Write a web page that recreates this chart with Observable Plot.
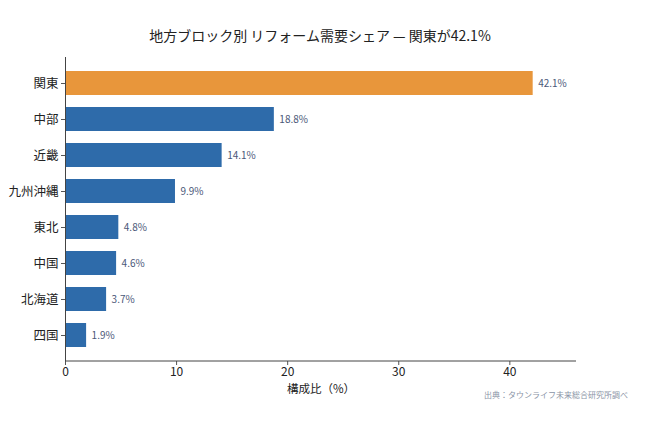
<!DOCTYPE html>
<html><head><meta charset="utf-8">
<script src="https://cdn.jsdelivr.net/npm/d3@7"></script>
<script src="https://cdn.jsdelivr.net/npm/@observablehq/plot@0.6"></script>
<style>
body{margin:0;background:#fff;font-family:"Noto Sans CJK JP","Noto Sans",sans-serif;}
#wrap{position:relative;width:652px;height:423px;}
#title{position:absolute;top:25px;left:0;width:640px;text-align:center;font-size:14px;color:#222;}
#cap{position:absolute;top:389px;right:24px;font-size:8px;color:#8a94a6;}
</style></head>
<body><div id="wrap"><div id="title">地方ブロック別 リフォーム需要シェア — 関東が42.1%</div><div id="chart"></div><div id="cap">出典：タウンライフ未来総合研究所調べ</div></div>
<script>
const regions = ["関東","中部","近畿","九州沖縄","東北","中国","北海道","四国"];
const shares = [42.1,18.8,14.1,9.9,4.8,4.6,3.7,1.9];
const highlight = "関東";
const data = regions.map((r,i)=>({region:r, share:shares[i]}));
const font = '"Noto Sans CJK JP","Noto Sans",sans-serif';
const plot = Plot.plot({
  width:652, height:423,
  marginLeft:65, marginRight:76, marginTop:57, marginBottom:62,
  style:{fontFamily:font, background:"#fff"},
  x:{domain:[0,46], ticks:[0,10,20,30,40], label:"構成比（%）", labelAnchor:"center", labelArrow:"none"},
  y:{domain:regions, paddingInner:0.33, paddingOuter:0.37, label:null},
  marks:[
    Plot.barX(data,{x:"share", y:"region", fill:d=>d.region===highlight?"#E8963B":"#2E6BAA"}),
    Plot.text(data,{x:"share", y:"region", text:d=>d.share.toFixed(1)+"%", dx:5, textAnchor:"start", fill:"#4a5878", fontSize:10}),
    Plot.axisY({tickSize:4, fontSize:12.5, tickPadding:3, stroke:"#555", color:"#222", label:null}),
    Plot.axisX({tickSize:4, fontSize:12, tickPadding:2, stroke:"#555", color:"#222", label:"構成比（%）", labelAnchor:"center", labelOffset:31, labelArrow:"none"}),
    Plot.ruleX([0],{stroke:"#444", strokeWidth:1})
  ]
});
document.getElementById("chart").appendChild(plot);
// bottom spine using the plot's scales
const xs = plot.scale("x");
const svg = d3.select(plot);
svg.append("line").attr("x1", xs.apply(0)).attr("x2", xs.apply(46)).attr("y1", 423-62).attr("y2", 423-62).attr("stroke","#444");
svg.selectAll('[aria-label="x-axis label"]').attr("font-size", 11.5);
</script></body></html>
